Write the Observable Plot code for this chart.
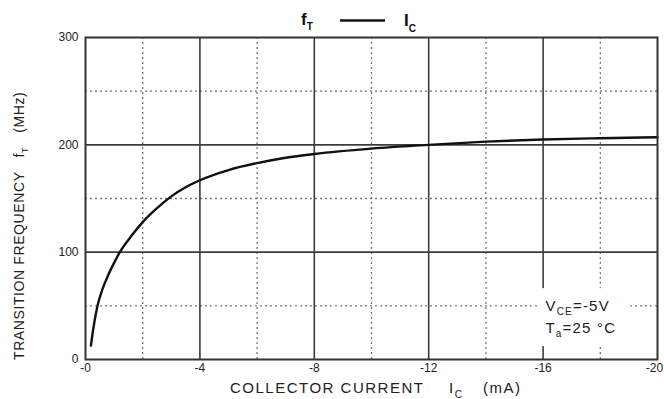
<!DOCTYPE html>
<html>
<head>
<meta charset="utf-8">
<script src="https://cdn.jsdelivr.net/npm/d3@7"></script>
<script src="https://cdn.jsdelivr.net/npm/@observablehq/plot@0.6"></script>
<style>
  body { margin: 0; background: #fff; }
  #chart svg { display: block; }
</style>
</head>
<body>
<div id="chart"></div>
<script>
// Collector current (mA) and transition frequency fT (MHz)
const collectorCurrent = [-0.19, -0.28, -0.42, -0.6, -0.8, -1.0, -1.2, -1.6, -2.0, -2.5, -3.0, -3.5, -4.0, -5.0, -6.0, -7.0, -8.0, -10.0, -12.0, -14.0, -16.0, -18.0, -20.0];
const transitionFreq   = [13, 30, 50, 66, 79, 90, 100, 115, 128, 141, 152, 160.5, 167, 176.5, 183, 188, 191.5, 196.5, 200, 203, 205, 206.2, 207];

const xTicks = [0, -4, -8, -12, -16, -20];
const xTickLabels = ["-0", "-4", "-8", "-12", "-16", "-20"];
const xMajorGrid = [-4, -8, -12, -16];
const xMinorGrid = [-2, -6, -10, -14, -18];
const yTicks = [0, 100, 200, 300];
const yMajorGrid = [100, 200];
const yMinorGrid = [50, 150, 250];

// blank area behind the condition note (data units)
const noteBox = [{x1: -15.8, x2: -18.95, y1: 12, y2: 66}];
const noteLines = [
  {x: -16.1, y: 45, main: "V", sub: "CE", rest: "=-5V"},
  {x: -16.1, y: 24, main: "T", sub: "a", rest: "=25 °C"}
];

const curve = collectorCurrent
  .map((c, i) => ({ic: c, ft: transitionFreq[i]}))
  .sort((a, b) => a.ic - b.ic);

const fmtX = (d) => xTickLabels[xTicks.indexOf(d)];

const chart = Plot.plot({
  width: 664,
  height: 399,
  marginLeft: 85,
  marginRight: 7,
  marginTop: 37,
  marginBottom: 40,
  x: {domain: [0, -20]},
  y: {domain: [0, 300]},
  style: {fontFamily: "'Liberation Sans', Arial, sans-serif", background: "white", color: "#222"},
  marks: [
    Plot.ruleX(xMinorGrid, {stroke: "#777", strokeWidth: 1.3, strokeDasharray: "2,3"}),
    Plot.ruleY(yMinorGrid, {stroke: "#777", strokeWidth: 1.3, strokeDasharray: "2,3"}),
    Plot.ruleX(xMajorGrid, {stroke: "#3c3c3c", strokeWidth: 1.6}),
    Plot.ruleY(yMajorGrid, {stroke: "#3c3c3c", strokeWidth: 1.6}),
    Plot.rect(noteBox, {x1: "x1", x2: "x2", y1: "y1", y2: "y2", fill: "white"}),
    Plot.line(curve, {x: "ic", y: "ft", curve: "monotone-x", stroke: "#111", strokeWidth: 2.4}),
    Plot.frame({stroke: "#333", strokeWidth: 2}),
    Plot.axisX(xTicks.slice(0, -1), {tickSize: 0, tickPadding: 4, fontSize: 12, label: null, tickFormat: fmtX}),
    Plot.axisX(xTicks.slice(-1), {tickSize: 0, tickPadding: 4, fontSize: 12, label: null, tickFormat: fmtX, dx: -3}),
    Plot.axisY(yTicks, {tickSize: 0, tickPadding: 7, fontSize: 12, label: null})
  ]
});

document.getElementById("chart").appendChild(chart);

const svg = d3.select(chart);
const sx = chart.scale("x"), sy = chart.scale("y");
const FONT = "'Liberation Sans', Arial, sans-serif";

// Title: fT —— IC
const title = svg.append("g").attr("font-family", FONT).attr("font-weight", "bold")
  .attr("fill", "#111").attr("text-anchor", "start");
title.append("text").attr("x", 301).attr("y", 25).attr("font-size", 17)
  .call(t => { t.append("tspan").text("f"); t.append("tspan").attr("dy", 5).attr("font-size", 10).text("T"); });
title.append("line").attr("x1", 340).attr("x2", 385).attr("y1", 20.5).attr("y2", 20.5)
  .attr("stroke", "#111").attr("stroke-width", 2.6);
title.append("text").attr("x", 404).attr("y", 26).attr("font-size", 17)
  .call(t => { t.append("tspan").text("I"); t.append("tspan").attr("dy", 6).attr("font-size", 10).text("C"); });

// X axis title
const xt = svg.append("text").attr("font-family", FONT).attr("font-size", 15).attr("fill", "#222")
  .attr("text-anchor", "start").attr("x", 230).attr("y", 393).attr("letter-spacing", 1.5);
xt.append("tspan").text("COLLECTOR CURRENT");
xt.append("tspan").attr("x", 449).text("I");
xt.append("tspan").attr("dy", 5).attr("font-size", 10).text("C");
xt.append("tspan").attr("x", 483).attr("dy", -5).text("(mA)");

// Y axis title (rotated)
const yt = svg.append("text").attr("font-family", FONT).attr("font-size", 14).attr("fill", "#222")
  .attr("text-anchor", "start")
  .attr("transform", "translate(24,360) rotate(-90)").attr("letter-spacing", 0.6);
yt.append("tspan").text("TRANSITION FREQUENCY");
yt.append("tspan").attr("dx", 14).text("f");
yt.append("tspan").attr("dy", 4).attr("font-size", 9).text("T");
yt.append("tspan").attr("dx", 14).attr("dy", -4).text("(MHz)");

// Condition note
noteLines.forEach(n => {
  const t = svg.append("text").attr("font-family", FONT).attr("font-size", 15).attr("fill", "#222")
    .attr("text-anchor", "start").attr("letter-spacing", 1.2)
    .attr("x", sx.apply(n.x)).attr("y", sy.apply(n.y));
  t.append("tspan").text(n.main);
  t.append("tspan").attr("dy", 4).attr("font-size", 10).text(n.sub);
  t.append("tspan").attr("dy", -4).text(n.rest);
});
</script>
</body>
</html>
